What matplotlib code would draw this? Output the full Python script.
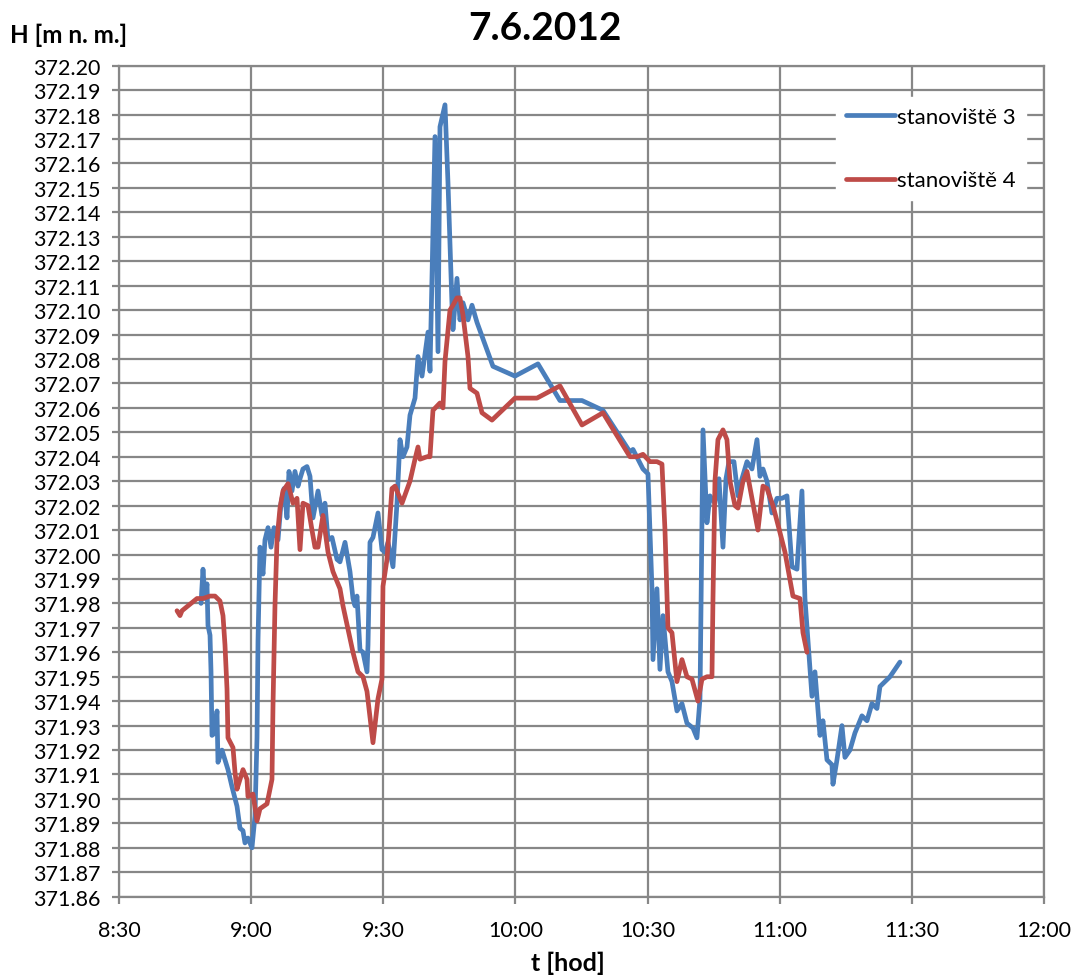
import matplotlib
matplotlib.use("Agg")
import matplotlib.pyplot as plt
import numpy as np

# font (Calibri look-alike)
plt.rcParams['font.family'] = ['Lato', 'DejaVu Sans']

# time in minutes after 8:30, level H [m n. m.]
t3 = [18.62, 19.07, 19.52, 19.98, 20.20, 20.66, 20.89, 21.11, 21.79, 22.25,
      22.47, 23.38, 24.06, 24.74, 25.65, 26.79, 27.47, 28.15, 28.60, 29.28,
      30.19, 30.87, 31.33, 31.56, 32.01, 32.69, 33.14, 33.83, 34.51, 35.19,
      36.10, 36.78, 37.46, 38.14, 38.59, 39.27, 39.95, 40.64, 41.09, 41.77,
      42.68, 43.36, 44.04, 45.18, 46.08, 46.76, 47.45, 48.35, 49.49, 50.17,
      51.31, 52.44, 53.12, 53.58, 54.03, 54.71, 55.39, 56.30, 56.53, 56.98,
      57.66, 58.57, 58.80, 59.70, 60.39, 61.07, 62.20, 63.11, 63.79, 64.47,
      65.38, 66.06, 67.20, 67.88, 68.79, 70.15, 70.60, 71.74, 72.42, 72.87,
      74.01, 74.69, 75.60, 75.82, 76.73, 77.41, 78.09, 79.23, 80.14, 81.27,
      84.90, 89.90, 95.12, 100.11, 105.11, 109.87, 116.00, 116.69, 118.96, 120.09,
      121.00, 121.23, 122.13, 122.81, 123.50, 124.63, 125.54, 126.67, 127.81, 128.94,
      130.31, 131.21, 131.90, 132.58, 133.48, 134.17, 135.30, 136.21, 137.12, 137.80,
      138.48, 139.61, 140.52, 141.43, 142.57, 143.70, 144.84, 145.52, 146.20, 147.11,
      148.24, 149.38, 150.51, 151.65, 152.78, 153.92, 155.05, 155.73, 156.41, 157.32,
      158.00, 159.14, 159.82, 160.73, 161.86, 162.09, 163.00, 164.13, 164.81, 165.95,
      167.08, 168.67, 169.81, 170.94, 172.08, 172.76, 173.89, 175.03, 176.16, 177.30]
h3 = [371.980, 371.994, 371.982, 371.988, 371.971, 371.967, 371.952, 371.926, 371.927, 371.936,
      371.915, 371.920, 371.916, 371.912, 371.905, 371.897, 371.888, 371.887, 371.882, 371.884,
      371.880, 371.893, 371.925, 371.965, 372.003, 371.992, 372.006, 372.011, 372.003, 372.011,
      372.006, 372.021, 372.027, 372.015, 372.034, 372.026, 372.034, 372.028, 372.031, 372.035,
      372.036, 372.032, 372.015, 372.026, 372.016, 372.021, 372.006, 372.007, 371.998, 371.997,
      372.005, 371.993, 371.982, 371.979, 371.983, 371.961, 371.960, 371.952, 371.963, 372.005,
      372.007, 372.015, 372.017, 372.002, 372.001, 372.005, 371.995, 372.021, 372.047, 372.040,
      372.044, 372.057, 372.064, 372.081, 372.073, 372.091, 372.075, 372.171, 372.083, 372.175,
      372.184, 372.152, 372.102, 372.092, 372.113, 372.096, 372.103, 372.096, 372.102, 372.095,
      372.077, 372.073, 372.078, 372.063, 372.063, 372.059, 372.042, 372.043, 372.035, 372.033,
      371.986, 371.957, 371.986, 371.953, 371.975, 371.952, 371.948, 371.936, 371.939, 371.931,
      371.929, 371.925, 371.941, 372.051, 372.013, 372.024, 372.021, 372.031, 372.003, 372.031,
      372.038, 372.038, 372.024, 372.031, 372.038, 372.035, 372.047, 372.032, 372.035, 372.030,
      372.017, 372.023, 372.023, 372.024, 371.995, 371.994, 372.026, 371.982, 371.965, 371.942,
      371.952, 371.926, 371.932, 371.916, 371.914, 371.906, 371.916, 371.930, 371.917, 371.920,
      371.927, 371.934, 371.932, 371.939, 371.937, 371.946, 371.948, 371.950, 371.953, 371.956]

t4 = [13.17, 13.85, 14.30, 15.66, 17.71, 19.07, 20.66, 21.79, 22.93, 23.61,
      24.06, 24.52, 24.74, 25.88, 26.33, 26.79, 27.47, 28.15, 29.06, 29.28,
      30.42, 31.33, 32.01, 33.60, 34.73, 34.96, 35.41, 35.87, 36.55, 37.23,
      38.37, 39.50, 40.41, 41.09, 41.77, 42.91, 43.81, 44.49, 45.18, 46.31,
      47.45, 48.58, 50.17, 50.85, 53.12, 54.26, 55.39, 56.30, 57.66, 58.80,
      59.70, 59.93, 60.84, 61.97, 62.66, 64.25, 66.06, 67.20, 67.88, 68.33,
      69.92, 70.60, 71.28, 72.87, 73.55, 74.01, 75.14, 75.82, 76.73, 77.41,
      78.09, 79.23, 79.68, 81.27, 82.41, 84.68, 89.90, 94.89, 100.11, 105.11,
      109.87, 116.00, 117.59, 118.96, 120.54, 122.13, 123.27, 123.95, 124.63, 125.54,
      126.67, 127.81, 128.94, 130.08, 131.44, 132.35, 133.48, 134.62, 134.85, 135.30,
      135.98, 137.12, 138.02, 138.71, 139.84, 140.52, 141.66, 142.57, 143.70, 145.06,
      146.20, 147.11, 148.47, 150.06, 151.19, 153.00, 154.60, 155.28, 156.19]
h4 = [371.977, 371.975, 371.977, 371.979, 371.982, 371.982, 371.983, 371.983, 371.981, 371.975,
      371.963, 371.945, 371.925, 371.921, 371.911, 371.904, 371.908, 371.912, 371.908, 371.901,
      371.902, 371.891, 371.896, 371.898, 371.908, 371.938, 371.979, 372.006, 372.019, 372.026,
      372.029, 372.021, 372.023, 372.002, 372.021, 372.020, 372.010, 372.003, 372.003, 372.016,
      372.001, 371.993, 371.986, 371.979, 371.960, 371.952, 371.950, 371.944, 371.923, 371.941,
      371.949, 371.987, 371.998, 372.027, 372.028, 372.021, 372.030, 372.039, 372.044, 372.039,
      372.040, 372.040, 372.059, 372.062, 372.060, 372.079, 372.100, 372.102, 372.105, 372.105,
      372.098, 372.081, 372.068, 372.066, 372.058, 372.055, 372.064, 372.064, 372.069, 372.053,
      372.058, 372.040, 372.040, 372.041, 372.038, 372.038, 372.037, 372.010, 371.970, 371.968,
      371.948, 371.957, 371.950, 371.949, 371.940, 371.949, 371.950, 371.950, 371.982, 372.030,
      372.047, 372.051, 372.047, 372.030, 372.020, 372.019, 372.030, 372.034, 372.023, 372.010,
      372.028, 372.027, 372.020, 372.009, 372.001, 371.983, 371.982, 371.968, 371.960]

xtick_pos = [0, 30, 60, 90, 120, 150, 180, 210]
xtick_lab = ['8:30', '9:00', '9:30', '10:00', '10:30', '11:00', '11:30', '12:00']
series_names = ['stanoviště 3', 'stanoviště 4']

blue = '#4A7EBB'
red = '#BE4B48'
grid_c = '#878787'

fig = plt.figure(figsize=(10.75, 9.78), dpi=100)
fig.set_facecolor('white')
ax = fig.add_axes([119/1075, 1-897.7/978, (1044-119)/1075, (897.7-66.7)/978])

ax.plot(t3, h3, color=blue, lw=3.4, solid_joinstyle='round', solid_capstyle='round',
        label=series_names[0], zorder=3)
ax.plot(t4, h4, color=red, lw=3.4, solid_joinstyle='round', solid_capstyle='round',
        label=series_names[1], zorder=4)

ax.set_xlim(0, 210)
ax.set_ylim(371.86, 372.20)
ax.set_xticks(xtick_pos)
ax.set_xticklabels(xtick_lab)
yt = np.round(np.arange(371.86, 372.2001, 0.01), 2)
ax.set_yticks(yt)
ax.set_yticklabels([f'{v:.2f}' for v in yt])

ax.grid(True, color=grid_c, lw=1.6, zorder=0)
ax.set_axisbelow(True)
for s in ax.spines.values():
    s.set_color(grid_c)
    s.set_linewidth(1.6)
ax.tick_params(axis='both', colors=grid_c, labelcolor='black', labelsize=15.5,
               length=5, width=1.6, direction='out')
ax.tick_params(axis='y', pad=8)
ax.tick_params(axis='x', pad=12)

leg = ax.legend(loc='upper left', bbox_to_anchor=(836/1075, 1-98/978),
                bbox_transform=fig.transFigure, fontsize=16, frameon=True,
                handlelength=2.2, handletextpad=0.1, labelspacing=1.95,
                borderpad=0.45, borderaxespad=0)
leg.get_frame().set_facecolor('white')
leg.get_frame().set_edgecolor('white')
leg.get_frame().set_alpha(1)

fig.text(545/1075, 1-28/978, '7.6.2012', ha='center', va='center',
         fontsize=28, fontweight='bold')
fig.text(10/1075, 1-35/978, 'H [m n. m.]', ha='left', va='center',
         fontsize=17.5, fontweight='bold')
fig.text(568/1075, 1-963/978, 't [hod]', ha='center', va='center',
         fontsize=18, fontweight='bold')

fig.savefig('out.png', dpi=100, facecolor='white')
